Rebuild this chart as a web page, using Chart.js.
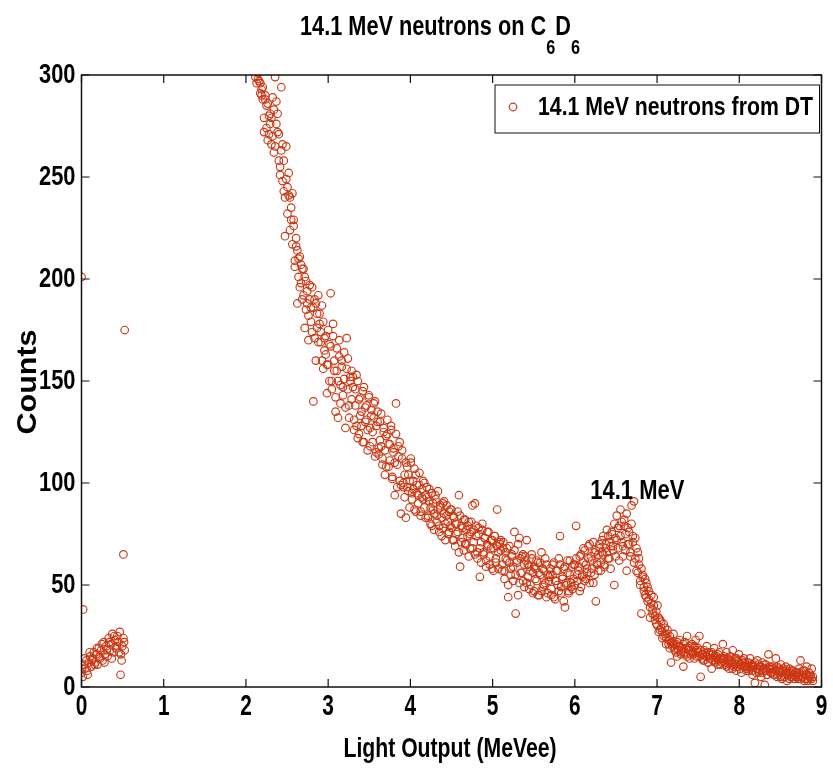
<!DOCTYPE html>
<html>
<head>
<meta charset="utf-8">
<script src="https://cdn.jsdelivr.net/npm/chart.js@4"></script>
<style>
  body { margin: 0; background: #fff; }
  canvas { display: block; }
</style>
</head>
<body>
<canvas id="spectrum" width="833" height="776"></canvas>
<script>
// Light output spectrum, 14.1 MeV DT neutrons on C6D6

const xTicks = [0, 1, 2, 3, 4, 5, 6, 7, 8, 9];
const yTicks = [0, 50, 100, 150, 200, 250, 300];

const seriesName = "14.1 MeV neutrons from DT";

// low energy bump below 0.55 MeVee
const lowEnergy = [0.000,0.015,0.030,0.045,0.060,0.075,0.090,0.105,0.120,0.135,0.150,0.165,0.180,0.195,0.210,0.225,0.240,0.255,0.270,0.285,0.300,0.315,0.330,0.345,0.360,0.375,0.390,0.405,0.420,0.435,0.450,0.465,0.480,0.495,0.510,0.525,
  0.008,0.038,0.068,0.098,0.128,0.158,0.188,0.218,0.248,0.278,0.308,0.338,0.368,0.398,0.428,0.458,0.488,0.518];
const lowCounts = [7,5,11,9,13,6,12,15,10,14,17,12,16,11,19,14,18,13,22,16,20,15,24,18,21,26,17,23,19,25,22,27,16,20,24,18,
  9,14,8,17,13,11,19,15,21,12,18,22,14,25,20,17,13,22];

// stray points
const strayEnergy = [0.000, 0.020, 0.475, 0.510, 0.525];
const strayCounts = [201, 38, 6, 65, 175];

// main recoil spectrum from 2.1 MeVee
const mainEnergy = [
  2.100,2.115,2.130,2.145,2.160,2.175,2.190,2.205,2.220,2.235,2.250,2.265,2.280,2.295,2.310,2.325,2.340,2.355,2.370,2.385,
  2.400,2.415,2.430,2.445,2.460,2.475,2.490,2.505,2.520,2.535,2.550,2.565,2.580,2.595,2.610,2.625,2.640,2.655,2.670,2.685,
  2.700,2.715,2.730,2.745,2.760,2.775,2.790,2.805,2.820,2.835,2.850,2.865,2.880,2.895,2.910,2.925,2.940,2.955,2.970,2.985,
  3.000,3.015,3.030,3.045,3.060,3.075,3.090,3.105,3.120,3.135,3.150,3.165,3.180,3.195,3.210,3.225,3.240,3.255,3.270,3.285,
  3.300,3.315,3.330,3.345,3.360,3.375,3.390,3.405,3.420,3.435,3.450,3.465,3.480,3.495,3.510,3.525,3.540,3.555,3.570,3.585,
  3.600,3.615,3.630,3.645,3.660,3.675,3.690,3.705,3.720,3.735,3.750,3.765,3.780,3.795,3.810,3.825,3.840,3.855,3.870,3.885,
  3.900,3.915,3.930,3.945,3.960,3.975,3.990,4.005,4.020,4.035,4.050,4.065,4.080,4.095,4.110,4.125,4.140,4.155,4.170,4.185,
  4.200,4.215,4.230,4.245,4.260,4.275,4.290,4.305,4.320,4.335,4.350,4.365,4.380,4.395,4.410,4.425,4.440,4.455,4.470,4.485,
  4.500,4.515,4.530,4.545,4.560,4.575,4.590,4.605,4.620,4.635,4.650,4.665,4.680,4.695,4.710,4.725,4.740,4.755,4.770,4.785,
  4.800,4.815,4.830,4.845,4.860,4.875,4.890,4.905,4.920,4.935,4.950,4.965,4.980,4.995,5.010,5.025,5.040,5.055,5.070,5.085,
  5.100,5.115,5.130,5.145,5.160,5.175,5.190,5.205,5.220,5.235,5.250,5.265,5.280,5.295,5.310,5.325,5.340,5.355,5.370,5.385,
  5.400,5.415,5.430,5.445,5.460,5.475,5.490,5.505,5.520,5.535,5.550,5.565,5.580,5.595,5.610,5.625,5.640,5.655,5.670,5.685,
  5.700,5.715,5.730,5.745,5.760,5.775,5.790,5.805,5.820,5.835,5.850,5.865,5.880,5.895,5.910,5.925,5.940,5.955,5.970,5.985,
  6.000,6.015,6.030,6.045,6.060,6.075,6.090,6.105,6.120,6.135,6.150,6.165,6.180,6.195,6.210,6.225,6.240,6.255,6.270,6.285,
  6.300,6.315,6.330,6.345,6.360,6.375,6.390,6.405,6.420,6.435,6.450,6.465,6.480,6.495,6.510,6.525,6.540,6.555,6.570,6.585,
  6.600,6.615,6.630,6.645,6.660,6.675,6.690,6.705,6.720,6.735,6.750,6.765,6.780,6.795,6.810,6.825,6.840,6.855,6.870,6.885,
  6.900,6.915,6.930,6.945,6.960,6.975,6.990,7.005,7.020,7.035,7.050,7.065,7.080,7.095,7.110,7.125,7.140,7.155,7.170,7.185,
  7.200,7.215,7.230,7.245,7.260,7.275,7.290,7.305,7.320,7.335,7.350,7.365,7.380,7.395,7.410,7.425,7.440,7.455,7.470,7.485,
  7.500,7.515,7.530,7.545,7.560,7.575,7.590,7.605,7.620,7.635,7.650,7.665,7.680,7.695,7.710,7.725,7.740,7.755,7.770,7.785,
  7.800,7.815,7.830,7.845,7.860,7.875,7.890,7.905,7.920,7.935,7.950,7.965,7.980,7.995,8.010,8.025,8.040,8.055,8.070,8.085,
  8.100,8.115,8.130,8.145,8.160,8.175,8.190,8.205,8.220,8.235,8.250,8.265,8.280,8.295,8.310,8.325,8.340,8.355,8.370,8.385,
  8.400,8.415,8.430,8.445,8.460,8.475,8.490,8.505,8.520,8.535,8.550,8.565,8.580,8.595,8.610,8.625,8.640,8.655,8.670,8.685,
  8.700,8.715,8.730,8.745,8.760,8.775,8.790,8.805,8.820,8.835,8.850,8.865,8.880,8.895
];
const mainCounts = [
  318,299,310,298,304,291,293,288,272,290,285,268,280,276,266,289,262,299,287,281,
  258,251,294,266,243,221,265,245,252,240,229,242,226,209,216,188,210,196,207,190,
  205,176,199,188,170,197,186,174,140,190,160,183,192,178,169,187,156,171,163,144,
  158,168,193,150,172,160,135,155,132,162,148,157,143,151,127,171,146,138,152,141,
  147,126,138,153,122,141,133,128,145,120,137,131,126,142,118,133,125,139,113,128,
  130,117,121,134,112,125,116,108,124,119,111,128,103,115,94,139,109,118,101,85,
  112,98,104,83,108,96,101,110,92,97,87,104,95,90,99,86,93,101,88,94,
  93,84,97,88,79,90,85,94,81,87,76,89,83,78,91,80,84,75,86,79,
  78,84,72,80,75,86,94,59,79,73,82,70,77,74,81,68,76,89,71,90,
  74,66,78,54,71,80,65,73,62,76,69,64,72,58,68,74,61,87,66,70,
  67,60,71,57,63,68,44,61,55,65,59,76,36,62,45,73,56,64,52,60,
  62,72,54,59,50,63,56,47,58,52,61,45,55,66,49,57,51,60,46,54,
  55,48,60,44,52,57,50,63,74,46,53,58,39,51,62,47,55,49,59,53,
  60,79,52,57,64,49,55,61,67,53,58,63,70,56,62,51,66,42,60,65,
  68,61,72,65,59,70,66,74,63,69,76,67,50,73,84,68,79,87,71,64,
  82,75,57,78,70,66,89,74,91,63,68,56,60,52,36,55,49,45,51,42,
  47,34,41,38,44,35,31,40,27,33,29,24,31,26,21,28,23,19,12,22,
  26,18,21,15,20,23,17,19,10,22,16,25,19,14,18,21,16,20,23,15,
  19,25,5,16,13,18,15,20,12,17,14,9,16,19,13,15,11,17,14,12,
  21,14,11,17,13,9,15,12,18,10,14,8,13,16,11,7,12,14,10,9,
  12,8,14,10,6,11,2,9,13,7,10,5,12,8,1,11,6,16,9,7,
  10,6,8,14,5,9,7,11,4,8,6,10,3,7,9,5,8,6,4,7,
  7,4,9,13,5,8,3,6,10,4,7,5,9,3
];
// second reading of the same channels (the plot shows two points per bin)
const mainCountsB = [
  305,312,296,301,297,296,290,294,279,288,274,286,271,281,279,270,283,265,276,272,
  271,255,263,248,258,240,249,232,241,224,235,217,229,206,220,214,201,211,198,205,
  192,201,185,194,182,190,179,196,186,171,188,176,169,183,174,160,179,165,172,158,
  175,150,167,146,178,155,142,166,150,170,139,160,147,164,137,156,161,132,150,155,
  152,131,146,128,150,124,142,135,120,147,130,138,116,143,127,136,120,132,140,115,
  135,114,130,118,109,127,104,123,131,108,119,126,102,117,110,124,98,113,120,99,
  116,100,93,110,98,104,88,112,95,101,107,86,99,94,105,84,97,92,100,83,
  98,83,91,80,95,87,77,92,84,96,79,88,74,90,85,72,89,81,76,87,
  87,72,83,69,80,76,66,84,71,78,67,82,70,79,64,75,81,68,77,65,
  79,63,75,68,61,77,66,73,59,70,76,60,68,72,57,74,63,69,58,71,
  72,57,68,53,66,62,50,69,58,64,52,67,55,61,70,51,63,56,65,49,
  64,51,60,48,57,65,46,59,53,62,45,56,61,47,58,50,63,44,55,52,
  58,45,55,61,43,52,57,47,60,49,54,42,59,50,56,46,62,51,48,60,
  50,63,55,59,47,65,54,68,52,60,56,69,51,64,58,71,55,67,61,57,
  70,57,66,74,60,68,77,63,71,58,75,69,80,64,72,78,62,74,81,69,
  79,67,85,70,76,64,80,71,61,73,57,66,63,50,58,54,47,53,44,49,
  43,39,45,36,40,33,37,30,34,28,32,27,25,29,24,26,21,25,22,20,
  21,19,17,22,18,20,16,18,21,17,19,15,18,20,16,17,19,14,17,18,
  17,15,18,14,16,13,17,15,12,16,14,17,13,15,12,14,16,13,11,14,
  13,15,12,10,14,12,11,13,9,12,11,14,10,12,9,11,13,10,12,8,
  10,12,9,11,8,10,12,7,9,11,8,10,7,9,11,8,6,9,10,7,
  7,9,6,8,10,6,8,5,7,9,5,7,8,6,4,7,5,8,6,5,
  6,5,7,4,6,5,8,4,6,3,5,6,4,5
];

const peakLabel = { text: "14.1 MeV", x: 6.76, y: 96 };

const markerColor = "rgb(204, 56, 20)";
const fontFamily = "'Liberation Sans', Arial, sans-serif";

function toPoints(xs, ys) {
  return xs.map((x, i) => ({ x: x, y: ys[i] }));
}

const points = [
  ...toPoints(lowEnergy, lowCounts),
  ...toPoints(strayEnergy, strayCounts),
  ...toPoints(mainEnergy, mainCounts),
  ...toPoints(mainEnergy, mainCountsB),
];

// the original used a tall narrow font, so text is squeezed sideways
function squeezed(ctx, text, x, y, size, sx, align) {
  ctx.save();
  ctx.font = `bold ${size}px ${fontFamily}`;
  ctx.textAlign = align;
  ctx.translate(x, y);
  ctx.scale(sx, 1);
  ctx.fillText(text, 0, 0);
  ctx.restore();
}

function fitted(ctx, text, x, y, size, width, align) {
  ctx.font = `bold ${size}px ${fontFamily}`;
  squeezed(ctx, text, x, y, size, width / ctx.measureText(text).width, align);
}

// box, inward ticks, labels, legend and texts the MATLAB way
const matlabLook = {
  id: "matlabLook",
  afterDatasetsDraw(chart) {
    const { ctx, chartArea: a, scales } = chart;
    ctx.save();
    ctx.strokeStyle = "#111";
    ctx.lineWidth = 1.5;
    ctx.strokeRect(a.left, a.top, a.right - a.left, a.bottom - a.top);

    ctx.lineWidth = 1.2;
    ctx.beginPath();
    xTicks.forEach((v) => {
      const px = scales.x.getPixelForValue(v);
      ctx.moveTo(px, a.bottom); ctx.lineTo(px, a.bottom - 8);
      ctx.moveTo(px, a.top); ctx.lineTo(px, a.top + 8);
    });
    yTicks.forEach((v) => {
      const py = scales.y.getPixelForValue(v);
      ctx.moveTo(a.left, py); ctx.lineTo(a.left + 8, py);
      ctx.moveTo(a.right, py); ctx.lineTo(a.right - 8, py);
    });
    ctx.stroke();

    ctx.fillStyle = "#000";
    ctx.textBaseline = "middle";
    xTicks.forEach((v) => {
      squeezed(ctx, String(v), scales.x.getPixelForValue(v), a.bottom + 20, 29, 0.72, "center");
    });
    yTicks.forEach((v) => {
      squeezed(ctx, String(v), a.left - 6, scales.y.getPixelForValue(v), 28, 0.78, "right");
    });

    // legend box inside the axes
    const lx = 495, ly = 85, lw = a.right - 2 - lx, lh = 48;
    ctx.fillStyle = "#fff";
    ctx.fillRect(lx, ly, lw, lh);
    ctx.strokeStyle = "#111";
    ctx.lineWidth = 1;
    ctx.strokeRect(lx, ly, lw, lh);
    ctx.beginPath();
    ctx.arc(lx + 18, ly + 22, 3.8, 0, Math.PI * 2);
    ctx.strokeStyle = markerColor;
    ctx.lineWidth = 1.2;
    ctx.stroke();
    ctx.fillStyle = "#000";
    fitted(ctx, seriesName, lx + 43, ly + 23, 26, 275, "left");

    // peak annotation
    fitted(ctx, peakLabel.text, scales.x.getPixelForValue(peakLabel.x), scales.y.getPixelForValue(peakLabel.y), 28, 94, "center");
    ctx.restore();
  },
  afterDraw(chart) {
    const { ctx } = chart;
    ctx.save();
    ctx.fillStyle = "#000";
    ctx.textBaseline = "alphabetic";

    // title with subscripts, squeezed to the original width
    const parts = [["14.1 MeV neutrons on C", 28, 0], ["6", 21, 19], ["D", 28, 0], ["6", 21, 19]];
    let total = 0;
    parts.forEach((p) => {
      ctx.font = `bold ${p[1]}px ${fontFamily}`;
      total += ctx.measureText(p[0]).width;
    });
    const sx = 280 / total;
    ctx.translate(300, 35);
    ctx.scale(sx, 1);
    let tx = 0;
    ctx.textAlign = "left";
    parts.forEach((p) => {
      ctx.font = `bold ${p[1]}px ${fontFamily}`;
      ctx.fillText(p[0], tx, p[2]);
      tx += ctx.measureText(p[0]).width;
    });
    ctx.setTransform(1, 0, 0, 1, 0, 0);

    // axis titles
    ctx.textBaseline = "middle";
    fitted(ctx, "Light Output (MeVee)", 450, 749, 28, 213, "center");
    ctx.translate(28, 382);
    ctx.rotate(-Math.PI / 2);
    fitted(ctx, "Counts", 0, 0, 28, 105, "center");
    ctx.restore();
  },
};

new Chart(document.getElementById("spectrum"), {
  type: "scatter",
  data: {
    datasets: [{
      label: seriesName,
      data: points,
      pointStyle: "circle",
      pointRadius: 3.8,
      pointBorderWidth: 1.15,
      borderColor: markerColor,
      backgroundColor: "rgba(0,0,0,0)",
    }],
  },
  options: {
    responsive: false,
    animation: false,
    devicePixelRatio: 1,
    layout: { padding: { top: 75, right: 11.5, left: 0, bottom: 0 } },
    plugins: {
      legend: { display: false },
      title: { display: false },
      tooltip: { enabled: false },
    },
    scales: {
      x: {
        type: "linear",
        min: 0,
        max: 9,
        grid: { display: false, drawTicks: false },
        border: { display: false },
        ticks: { display: false, stepSize: 1 },
        afterFit(scale) { scale.height = 89; },
      },
      y: {
        min: 0,
        max: 300,
        grid: { display: false, drawTicks: false },
        border: { display: false },
        ticks: { display: false, stepSize: 50 },
        afterFit(scale) { scale.width = 81.5; },
      },
    },
  },
  plugins: [matlabLook],
});
</script>
</body>
</html>
